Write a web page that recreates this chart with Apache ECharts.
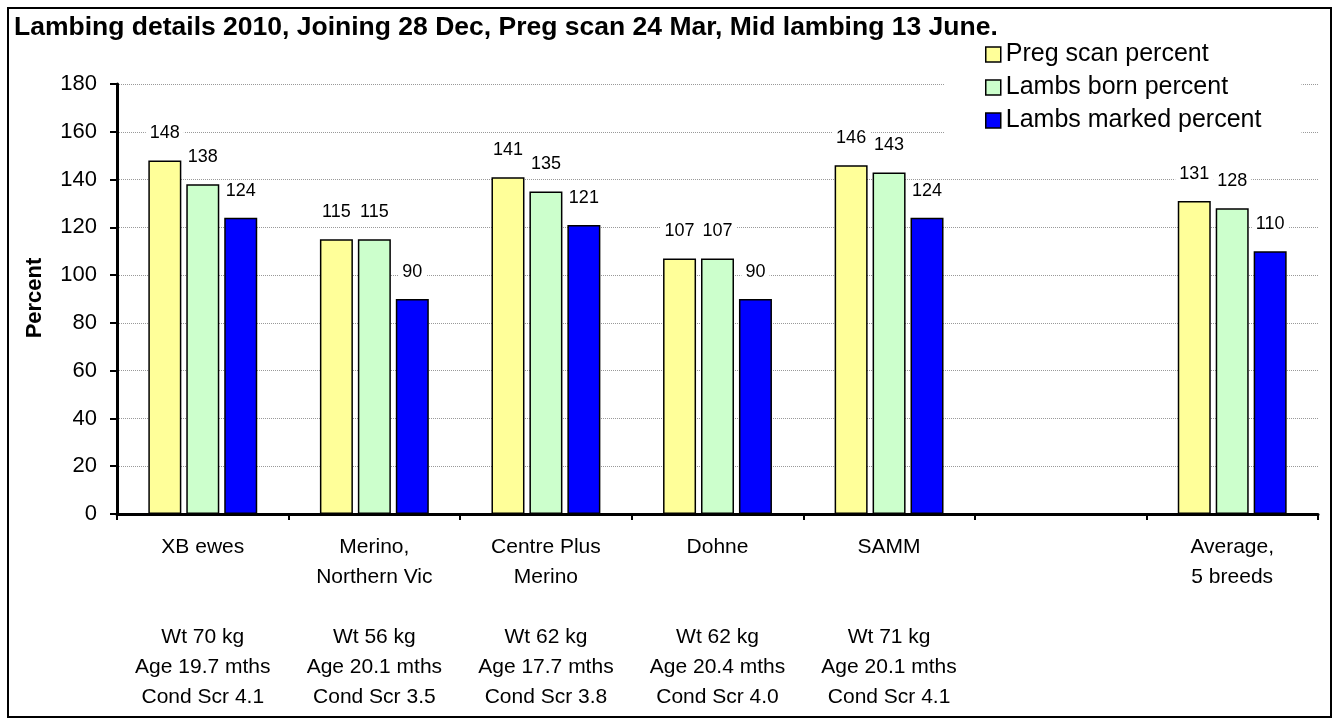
<!DOCTYPE html>
<html>
<head>
<meta charset="utf-8">
<script src="https://cdn.jsdelivr.net/npm/echarts@6/dist/echarts.min.js"></script>
<style>
  html, body { margin: 0; padding: 0; background: #fff; }
  #main { width: 1337px; height: 724px; }
</style>
</head>
<body>
<div id="main"></div>
<script>
const breeds = ['XB ewes', 'Merino,\nNorthern Vic', 'Centre Plus\nMerino', 'Dohne', 'SAMM', '', 'Average,\n5 breeds']
const details = [
  'Wt 70 kg\nAge 19.7 mths\nCond Scr 4.1',
  'Wt 56 kg\nAge 20.1 mths\nCond Scr 3.5',
  'Wt 62 kg\nAge 17.7 mths\nCond Scr 3.8',
  'Wt 62 kg\nAge 20.4 mths\nCond Scr 4.0',
  'Wt 71 kg\nAge 20.1 mths\nCond Scr 4.1',
  '',
  ''
]
const pregScan = [148, 115, 141, 107, 146, '-', 131]
const lambsBorn = [138, 115, 135, 107, 143, '-', 128]
const lambsMarked = [124, 90, 121, 90, 124, '-', 110]

const font = '"Liberation Sans", Arial, sans-serif'
const narrow = '"Liberation Sans Narrow", "Arial Narrow", "Liberation Sans", sans-serif'
const chart = echarts.init(document.getElementById('main'))

// value labels sit on a white box so they cut the gridlines like the original
const labelOption = {
  show: true,
  position: 'top',
  distance: 17,
  fontFamily: narrow,
  fontSize: 18,
  color: '#000',
  backgroundColor: '#fff',
  padding: [1, 4]
}

function barSeries (name, color, data) {
  return {
    name: name,
    type: 'bar',
    barWidth: 33,
    barGap: '15%',
    itemStyle: { color: color, borderColor: '#000', borderWidth: 1.5 },
    label: labelOption,
    data: data
  }
}

chart.setOption({
  animation: false,
  textStyle: { fontFamily: font },
  title: {
    text: 'Lambing details 2010, Joining 28 Dec, Preg scan 24 Mar, Mid lambing 13 June.',
    left: 14,
    top: 14,
    padding: 0,
    textStyle: { fontFamily: font, fontSize: 26.5, fontWeight: 'bold', color: '#000' }
  },
  legend: {
    orient: 'vertical',
    left: 945,
    top: 36,
    padding: [6, 40, 6, 40],
    backgroundColor: '#fff',
    icon: 'rect',
    itemWidth: 15,
    itemHeight: 15,
    itemGap: 8,
    itemStyle: { borderColor: '#000', borderWidth: 1.5 },
    textStyle: { fontFamily: font, fontSize: 25, color: '#000' },
    data: ['Preg scan percent', 'Lambs born percent', 'Lambs marked percent']
  },
  grid: { left: 117, right: 19, top: 84, bottom: 210, containLabel: false },
  xAxis: [
    {
      type: 'category',
      data: breeds,
      axisLine: { lineStyle: { color: '#000', width: 3 } },
      axisTick: { show: true, length: 6, lineStyle: { color: '#000', width: 2 } },
      axisLabel: { interval: 0, margin: 18, fontSize: 21, lineHeight: 30, color: '#000', fontFamily: font }
    },
    {
      type: 'category',
      position: 'bottom',
      data: details,
      axisLine: { show: false },
      axisTick: { show: false },
      axisLabel: { interval: 0, margin: 108, fontSize: 21, lineHeight: 30, color: '#000', fontFamily: font }
    }
  ],
  yAxis: {
    type: 'value',
    min: 0,
    max: 180,
    interval: 20,
    axisLine: { show: true, lineStyle: { color: '#000', width: 3 } },
    axisTick: { show: true, length: 7, lineStyle: { color: '#000', width: 2 } },
    axisLabel: { fontSize: 22, color: '#000', margin: 20, fontFamily: font },
    splitLine: { lineStyle: { color: '#999', type: 'dotted', width: 1 } }
  },
  graphic: [
    {
      type: 'rect',
      shape: { x: 8, y: 8, width: 1323, height: 709 },
      style: { fill: 'none', stroke: '#000', lineWidth: 2 },
      z: 100
    },
    {
      type: 'text',
      x: 35,
      y: 298,
      rotation: Math.PI / 2,
      style: {
        text: 'Percent',
        fontFamily: font,
        fontSize: 22,
        fontWeight: 'bold',
        fill: '#000',
        align: 'center',
        verticalAlign: 'middle'
      }
    }
  ],
  series: [
    barSeries('Preg scan percent', '#FFFF99', pregScan),
    barSeries('Lambs born percent', '#CCFFCC', lambsBorn),
    barSeries('Lambs marked percent', '#0000FF', lambsMarked)
  ]
})
</script>
</body>
</html>
